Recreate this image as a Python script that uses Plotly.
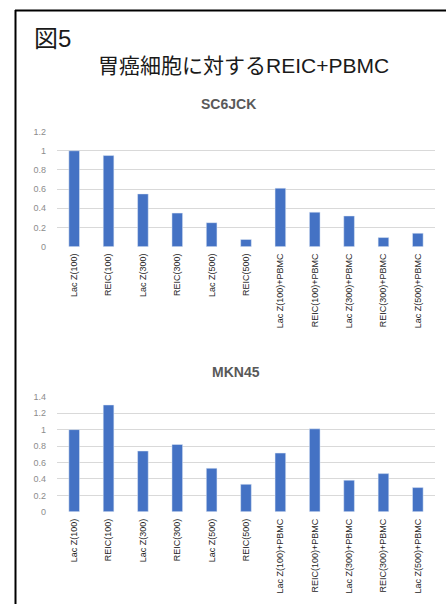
import plotly.graph_objects as go

W, H = 446, 609

categories = [
    "Lac Z(100)", "REIC(100)", "Lac Z(300)", "REIC(300)", "Lac Z(500)", "REIC(500)",
    "Lac Z(100)+PBMC", "REIC(100)+PBMC", "Lac Z(300)+PBMC", "REIC(300)+PBMC", "Lac Z(500)+PBMC",
]
sc6jck_values = [1.0, 0.95, 0.55, 0.35, 0.25, 0.075, 0.61, 0.36, 0.32, 0.095, 0.14]
mkn45_values = [1.0, 1.30, 0.74, 0.82, 0.53, 0.335, 0.715, 1.01, 0.385, 0.465, 0.295]

sc6jck_ticks = [0, 0.2, 0.4, 0.6, 0.8, 1, 1.2]
sc6jck_ticktext = ["0", "0.2", "0.4", "0.6", "0.8", "1", "1.2"]
mkn45_ticks = [0, 0.2, 0.4, 0.6, 0.8, 1, 1.2, 1.4]
mkn45_ticktext = ["0", "0.2", "0.4", "0.6", "0.8", "1", "1.2", "1.4"]

BAR = "#4472C4"
GRID = "#d9d9d9"
FONT = "Liberation Sans, Arial, Noto Sans CJK JP, sans-serif"


def px_x(x):
    return x / W


def px_y(y):
    return 1 - y / H


fig = go.Figure()
fig.add_trace(go.Bar(x=categories, y=sc6jck_values, marker_color=BAR,
                     xaxis="x", yaxis="y", showlegend=False))
fig.add_trace(go.Bar(x=categories, y=mkn45_values, marker_color=BAR,
                     xaxis="x2", yaxis="y2", showlegend=False))

xdom = [px_x(57), px_x(435)]
xcommon = dict(domain=xdom, tickangle=-90, showgrid=False, showline=False, zeroline=False,
               ticks="", tickfont=dict(family=FONT, size=9, color="#262626"),
               ticklabelstandoff=4)
ycommon = dict(showgrid=True, gridcolor=GRID, gridwidth=1, zeroline=False, showline=False,
               ticks="", tickfont=dict(family=FONT, size=9, color="#8c8c8c"),
               ticklabelstandoff=10)

fig.update_layout(
    width=W, height=H,
    margin=dict(l=0, r=0, t=0, b=0),
    paper_bgcolor="white", plot_bgcolor="white",
    bargap=0.69,
    font=dict(family=FONT),
    xaxis=dict(anchor="y", **xcommon),
    yaxis=dict(anchor="x", domain=[px_y(245.7), px_y(128.7)], range=[0, 1.2],
               tickvals=sc6jck_ticks, ticktext=sc6jck_ticktext, **ycommon),
    xaxis2=dict(anchor="y2", **xcommon),
    yaxis2=dict(anchor="x2", domain=[px_y(515.3), px_y(398.3)], range=[0, 1.4],
                tickvals=mkn45_ticks, ticktext=mkn45_ticktext, **ycommon),
    shapes=[
        dict(type="line", xref="paper", yref="paper", x0=px_x(15), x1=1.0,
             y0=px_y(5.5), y1=px_y(5.5), line=dict(color="black", width=2)),
        dict(type="line", xref="paper", yref="paper", x0=px_x(15.5), x1=px_x(15.5),
             y0=px_y(5), y1=0, line=dict(color="black", width=2)),
    ],
    annotations=[
        dict(text="図5", xref="paper", yref="paper", x=px_x(32), y=px_y(34),
             xanchor="left", yanchor="middle", showarrow=False,
             font=dict(family=FONT, size=24, color="#1a1a1a")),
        dict(text="胃癌細胞に対するREIC+PBMC", xref="paper", yref="paper",
             x=px_x(243), y=px_y(62), xanchor="center", yanchor="middle", showarrow=False,
             font=dict(family=FONT, size=21, color="#1a1a1a")),
        dict(text="<b>SC6JCK</b>", xref="paper", yref="paper",
             x=px_x(228), y=px_y(101), xanchor="center", yanchor="middle", showarrow=False,
             font=dict(family=FONT, size=14, color="#595959")),
        dict(text="<b>MKN45</b>", xref="paper", yref="paper",
             x=px_x(236), y=px_y(373), xanchor="center", yanchor="middle", showarrow=False,
             font=dict(family=FONT, size=14, color="#595959")),
    ],
)

fig.write_html("out.html")
